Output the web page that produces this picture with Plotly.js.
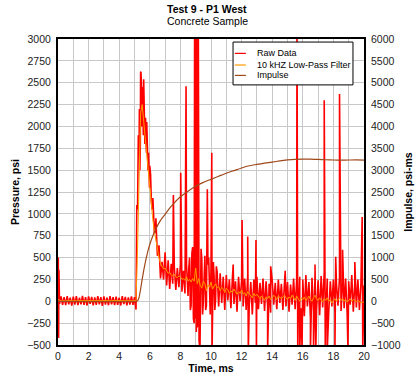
<!DOCTYPE html>
<html>
<head>
<meta charset="utf-8">
<script src="https://cdn.plot.ly/plotly-3.0.1.min.js"></script>
<style>html,body{margin:0;padding:0;background:#fff;}#chart{width:417px;height:383px;}</style>
</head>
<body>
<div id="chart"></div>
<script>
// ---- Data ----
// Raw pressure sampled every 0.1 ms starting at 0 ms (psi)
const rawStep = 0.1;
const rawBase = [
  370,-30,55,-40,48,-45,60,-35,42,-50,
  52,-38,58,-44,40,-36,62,-42,46,-48,
  55,-30,50,-46,44,-40,58,-34,48,-52,
  56,-38,42,-45,60,-36,46,-44,52,-40,
  40,-48,58,-32,50,-46,44,-38,56,-42,
  48,-95,1050,1750,2620,2150,2540,1950,2050,1600,
  1550,1150,1180,780,950,520,640,260,450,250,
  560,180,470,140,430,200,400,130,380,160,
  420,110,350,90,420,60,500,-50,620,-250,
  700,-300,550,-100,480,0,520,-50,420,30,
  380,-80,300,20,340,-60,320,-20,280,-100,
  300,10,250,-80,270,-30,230,-120,280,0,
  240,-60,260,-100,300,-40,220,-150,250,-20,
  280,-90,210,-30,260,-110,230,-50,200,-130,
  240,-40,210,-90,250,-20,200,-100,230,-60,
  220,-120,190,-40,260,-90,240,-150,280,-80,
  250,-170,300,-60,220,-200,270,-120,320,-90,
  240,-160,290,-70,330,-140,260,-100,230,-60,
  250,-130,200,-50,280,-110,220,-80,260,-140,
  230,-40,300,-120,210,-70,250,-100,200,-60,
  180
];
// Extra raw samples / spikes between the base samples: time (ms), pressure (psi)
const spikeT = [0.02,0.04,0.06,5.15,5.25,5.35,5.45,5.55,5.65,
  5.32,5.38,5.42,5.48,5.52,5.58,5.62,5.68,5.72,5.78,5.82,5.88,5.92,5.98,
  6.05,6.15,6.25,6.35,6.45,6.55,
  7.54,8.02,8.37,
  8.55,8.65,8.75,8.85,
  8.93,8.96,9.01,9.04,9.08,9.13,9.17,9.22,9.28,
  9.35,9.45,9.55,9.65,9.76,9.85,9.95,10.05,10.07,10.15,10.25,10.35,10.45,
  11.45,12.03,12.4,12.44,12.94,12.97,13.7,13.9,14.85,15.62,15.67,15.8,15.95,
  16.5,16.7,16.8,16.85,17.4,17.47,17.6,18.1,18.15,18.4,18.6,18.95,19.4,19.88,19.92];
const spikeP = [500,-420,360,1100,1900,1500,2500,2000,2300,
  2200,1800,2626,2000,2450,1900,2350,1800,2100,1700,1900,1500,1700,1300,
  1450,1050,1000,800,700,550,
  1215,1470,2460,
  380,-100,550,-200,
  3300,-200,3300,-350,3300,-250,3300,-450,-550,
  600,-150,450,-100,1280,500,-150,1700,-550,450,-100,400,-50,
  420,930,740,-550,700,-550,-550,400,350,3300,-550,-550,-550,
  -550,-550,420,-550,2300,-550,-550,-550,510,2370,590,-550,450,965,-550];

// 10 kHz low-pass filtered pressure, every 0.1 ms (psi)
const filtStep = 0.1;
const filt = [
  20,8,5,10,6,4,9,7,5,8,
  6,10,4,7,9,5,8,6,3,7,
  10,5,8,6,9,4,7,8,5,6,
  9,7,4,8,6,10,5,7,9,6,
  4,8,7,5,9,6,8,4,7,6,
  5,10,600,1500,2150,2250,2050,1850,1700,1500,
  1300,1120,930,800,690,600,500,430,390,370,
  380,340,320,330,300,290,310,280,270,290,
  280,250,260,240,280,230,250,220,260,230,
  380,200,260,180,150,230,200,120,190,160,
  220,140,180,200,150,170,120,160,140,100,
  150,130,90,120,100,140,110,80,110,90,
  130,80,100,60,110,90,70,40,90,60,
  80,50,30,60,40,10,50,30,60,20,
  40,70,50,20,60,40,30,50,70,40,
  20,50,30,70,40,10,60,30,0,40,
  20,50,10,30,60,20,0,40,70,30,
  10,40,20,-10,30,10,40,0,20,-20,
  10,30,0,20,40,10,30,0,20,-10,
  10,30,0,20,10,-10,10,0,-20,-10,
  -10
];

// Impulse (psi-ms)
const impT = [0,5.1,5.2,5.3,5.4,5.5,5.6,5.7,5.8,5.9,6.0,6.2,6.4,6.7,7.0,7.3,7.6,8.0,8.5,9.0,
  9.5,10,10.5,11,11.5,12,12.5,13,13.5,14,14.5,15,15.5,16,16.5,17,17.5,18,18.5,19,19.5,20];
const impV = [0,0,10,90,280,500,700,880,1040,1180,1300,1500,1660,1850,1990,2130,2250,2390,2520,2630,
  2720,2790,2860,2930,2990,3050,3100,3130,3160,3185,3210,3235,3248,3252,3250,3245,3238,3232,3230,3232,3234,3230];

const seriesNames = ['Raw Data','10 kHZ Low-Pass Filter','Impulse'];
const seriesColors = ['#ff0000','#ff9900','#a0481a'];
const xTicks = [0,2,4,6,8,10,12,14,16,18,20];

// ---- Build raw series (base samples merged with extra samples, in time order) ----
const rawPairs = rawBase.map((v,i)=>[Math.round(i*rawStep*1000)/1000, v]);
spikeT.forEach((t,i)=>rawPairs.push([t, spikeP[i]]));
rawPairs.sort((a,b)=>a[0]-b[0]);
const rawX = rawPairs.map(p=>p[0]);
const rawY = rawPairs.map(p=>p[1]);
const filtX = filt.map((v,i)=>Math.round(i*filtStep*1000)/1000);

const FONT = 'Liberation Sans, Arial, sans-serif';

const traces = [
  {x: rawX, y: rawY, type:'scatter', mode:'lines', name: seriesNames[0],
   line:{color: seriesColors[0], width:1.6}, showlegend:false},
  {x: filtX, y: filt, type:'scatter', mode:'lines', name: seriesNames[1],
   line:{color: seriesColors[1], width:1}, showlegend:false},
  {x: impT, y: impV, type:'scatter', mode:'lines', name: seriesNames[2], yaxis:'y2',
   line:{color: seriesColors[2], width:1.2, shape:'spline', smoothing:0.6}, showlegend:false}
];

// custom legend (box, swatches, labels) in paper coordinates
const lgX0 = 0.572, lgX1 = 0.964, lgY0 = 0.850, lgY1 = 0.990;
const lgRows = [0.953, 0.915, 0.881];
const shapes = [
  {type:'rect', xref:'paper', yref:'paper', x0:lgX0, x1:lgX1, y0:lgY0, y1:lgY1,
   line:{color:'#000', width:1}, fillcolor:'#fff', layer:'above'}
];
const annotations = [
  {text:'<b>Test 9 - P1 West</b>', xref:'paper', yref:'paper', x:0.487, y:1.098,
   showarrow:false, xanchor:'center', yanchor:'middle', font:{family:FONT, size:10.5, color:'#000'}},
  {text:'Concrete Sample', xref:'paper', yref:'paper', x:0.487, y:1.059,
   showarrow:false, xanchor:'center', yanchor:'middle', font:{family:FONT, size:10.5, color:'#000'}}
];
seriesNames.forEach((n,i)=>{
  shapes.push({type:'line', xref:'paper', yref:'paper', x0:0.578, x1:0.614, y0:lgRows[i], y1:lgRows[i],
    line:{color: seriesColors[i], width:1.2}, layer:'above'});
  annotations.push({text:n, xref:'paper', yref:'paper', x:0.645, y:lgRows[i], showarrow:false,
    xanchor:'left', yanchor:'middle', font:{family:FONT, size:9, color:'#000'}});
});

const layout = {
  width:417, height:383,
  margin:{l:58, r:53, t:39, b:38, pad:0},
  paper_bgcolor:'#fff', plot_bgcolor:'#fff',
  showlegend:false,
  font:{family:FONT, size:10.5, color:'#222'},
  xaxis:{
    range:[0,20], tickmode:'array', tickvals:xTicks, ticktext:xTicks.map(String),
    showgrid:true, gridcolor:'#c8c8c8', gridwidth:1,
    minor:{dtick:1, tick0:0, showgrid:true, gridcolor:'#c8c8c8', gridwidth:1},
    zeroline:false, showline:true, mirror:true, linecolor:'#000', linewidth:2,
    ticks:'', tickfont:{family:FONT, size:10.5, color:'#222'},
    title:{text:'Time, ms', font:{family:FONT, size:10.5, color:'#000', weight:700}, standoff:4}
  },
  yaxis:{
    range:[-500,3000], dtick:250, tick0:0,
    showgrid:true, gridcolor:'#c8c8c8', gridwidth:1,
    zeroline:false, showline:true, mirror:true, linecolor:'#000', linewidth:2,
    ticks:'', ticklabelstandoff:3, tickfont:{family:FONT, size:10.5, color:'#222'},
    title:{text:'Pressure, psi', font:{family:FONT, size:10.5, color:'#000', weight:700}, standoff:6}
  },
  yaxis2:{
    range:[-1000,6000], dtick:500, tick0:0, overlaying:'y', side:'right',
    showgrid:false, zeroline:false, showline:false,
    ticks:'', ticklabelstandoff:6, tickfont:{family:FONT, size:10.5, color:'#222'},
    title:{text:'Impulse, psi-ms', font:{family:FONT, size:10.5, color:'#000', weight:700}, standoff:4}
  },
  shapes: shapes,
  annotations: annotations
};

Plotly.newPlot('chart', traces, layout, {staticPlot:true, displayModeBar:false});
</script>
</body>
</html>
